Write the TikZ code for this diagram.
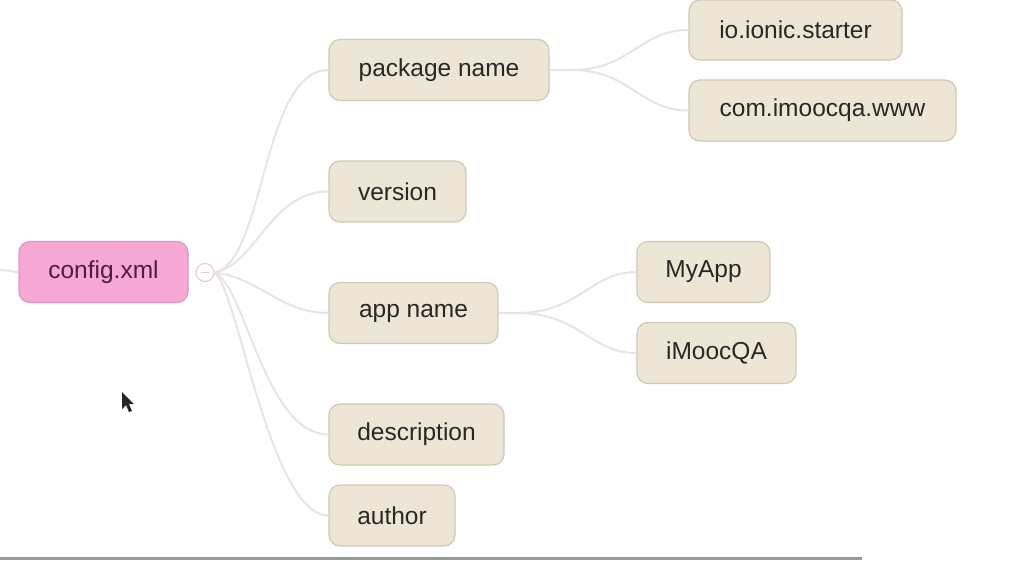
\documentclass[tikz,border=0pt]{standalone}
\usepackage{fontspec}
\setmainfont{Liberation Sans}
\definecolor{boxfill}{HTML}{EDE6D7}
\definecolor{boxdraw}{HTML}{CFC8B9}
\definecolor{pinkfill}{HTML}{F5A8D4}
\definecolor{pinkdraw}{HTML}{E393C2}
\definecolor{pinktext}{HTML}{4E1E40}
\definecolor{linkcol}{HTML}{E9E3E1}
\definecolor{btext}{HTML}{2A2724}
\tikzset{
  topic/.style={draw=boxdraw, line width=1.2pt, fill=boxfill, rounded corners=11pt,
    minimum height=61pt, inner sep=0pt, text=btext,
    font=\fontsize{24.5}{29}\selectfont},
  root/.style={topic, draw=pinkdraw, fill=pinkfill, text=pinktext},
  link/.style={draw=linkcol, line width=2pt},
}
\begin{document}
\begin{tikzpicture}[x=1pt,y=-1pt]
\useasboundingbox (0,0) rectangle (1010,560);
% nodes
\node[root, minimum width=169pt] (cfg) at (103.5,272) {config.xml};
\node[draw=pinkdraw!60, line width=1pt, circle, minimum size=18pt, inner sep=0pt, fill=white] (knob) at (205,272.5) {};
\draw[pinkdraw!80!black!40, line width=1pt] ([xshift=-4pt]knob.center) -- ([xshift=4pt]knob.center);
\node[topic, minimum width=220pt] (pkg) at (439,70) {package name};
\node[topic, minimum width=137pt] (ver) at (397.5,191.5) {version};
\node[topic, minimum width=169pt] (app) at (413.5,313) {app name};
\node[topic, minimum width=175pt] (desc) at (416.5,434.5) {description};
\node[topic, minimum width=126pt] (auth) at (392,515.5) {author};
\node[topic, minimum width=213pt, minimum height=60pt] (io) at (795.5,30) {io.ionic.starter};
\node[topic, minimum width=267pt] (com) at (822.5,110.5) {com.imoocqa.www};
\node[topic, minimum width=133pt] (my) at (703.5,272) {MyApp};
\node[topic, minimum width=159pt] (imq) at (716.5,353) {iMoocQA};
% free ends / branch points
\coordinate (lft) at (0,270);
\coordinate (pkgb) at (572,70);
\coordinate (appb) at (517,313);
% connectors
\draw[link] (lft) .. controls (10,270) and (12,272) .. (cfg.west);
\draw[link] (knob.east) .. controls (265,262) and (262,70) .. (pkg.west);
\draw[link] (knob.east) .. controls (255,266) and (270,191.5) .. (ver.west);
\draw[link] (knob.east) .. controls (260,278) and (280,313) .. (app.west);
\draw[link] (knob.east) .. controls (245,285) and (265,434.5) .. (desc.west);
\draw[link] (knob.east) .. controls (238,290) and (270,515.5) .. (auth.west);
\draw[link] (pkg.east) -- (pkgb);
\draw[link] (pkgb) .. controls (630,70) and (640,30) .. (io.west);
\draw[link] (pkgb) .. controls (630,70) and (640,110.5) .. (com.west);
\draw[link] (app.east) -- (appb);
\draw[link] (appb) .. controls (580,313) and (590,272) .. (my.west);
\draw[link] (appb) .. controls (580,313) and (590,353) .. (imq.west);
% cursor
\fill[black!85] (122,392) -- (122,409) -- (126,405) -- (129,412) -- (132,411) -- (129,404) -- (134,404) -- cycle;
% bottom bar
\fill[black!40] (0,557) rectangle (862,560);
\end{tikzpicture}
\end{document}
